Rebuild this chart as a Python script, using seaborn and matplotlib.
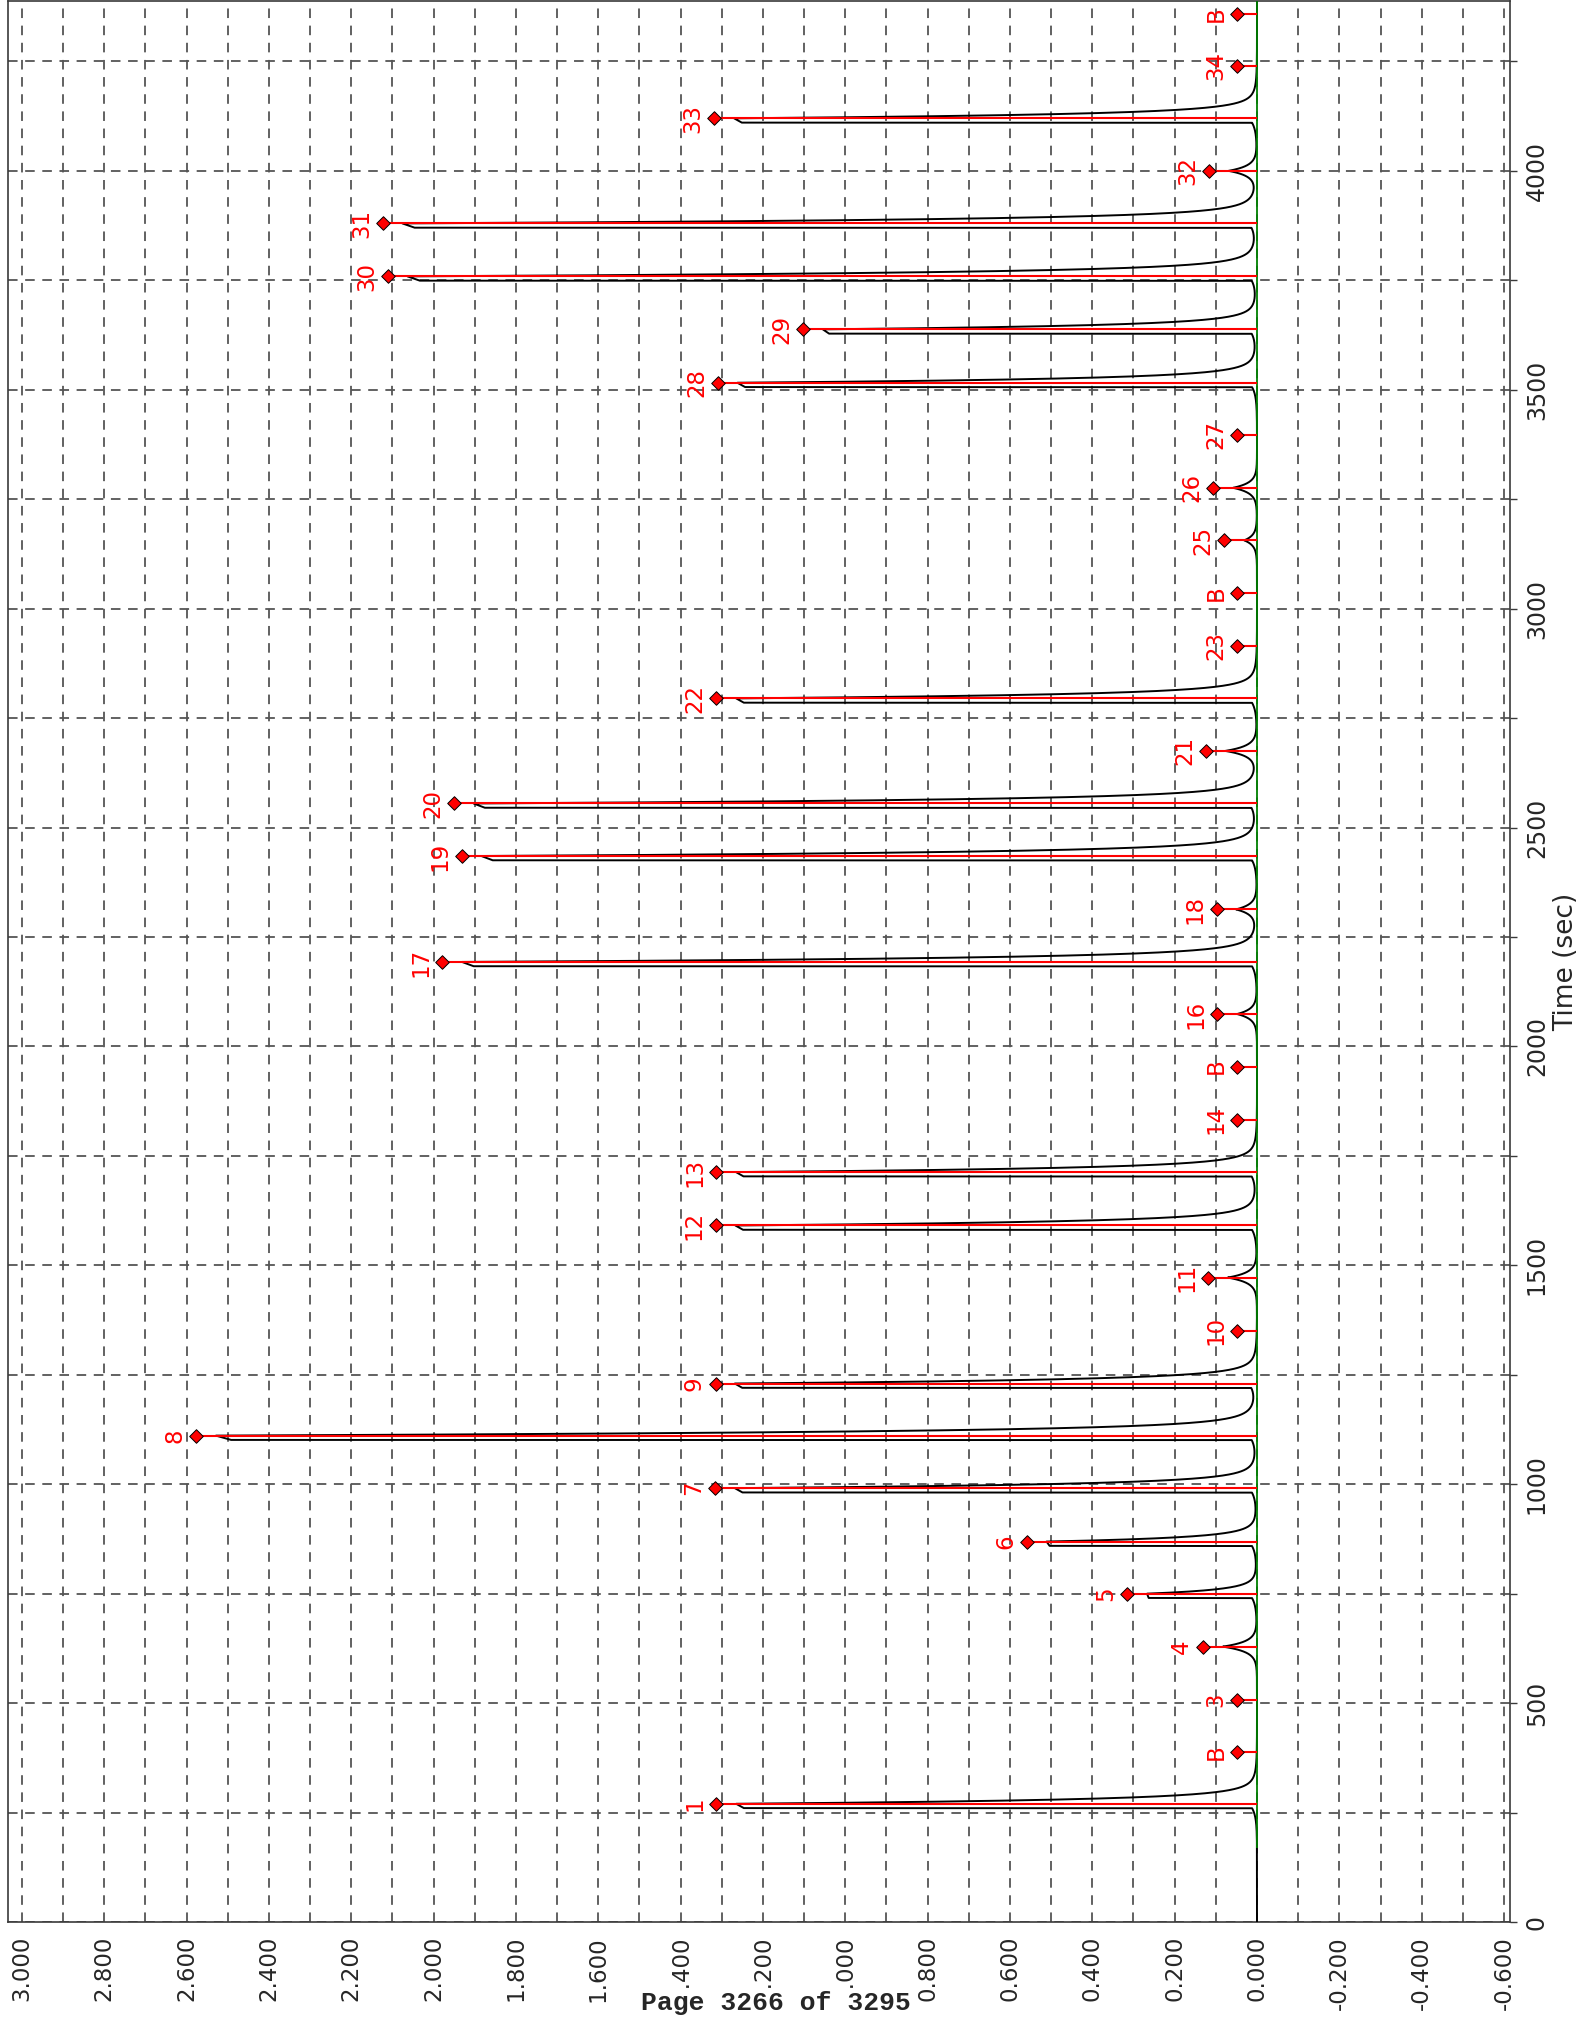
import numpy as np
import pandas as pd
import matplotlib
matplotlib.use("Agg")
import matplotlib.pyplot as plt
import seaborn as sns
from matplotlib.ticker import MultipleLocator, FixedLocator, FormatStrFormatter

# ---- peak table -------------------------------------------------------------
peak_labels = ["1", "B", "3", "4", "5", "6", "7", "8", "9", "10", "11", "12",
               "13", "14", "B", "16", "17", "18", "19", "20", "21", "22", "23",
               "B", "25", "26", "27", "28", "29", "30", "31", "32", "33", "34",
               "B"]
peak_times = [270, 388, 508, 629, 750, 869, 991, 1111, 1230, 1351, 1472, 1591,
              1713, 1833, 1954, 2074, 2193, 2313, 2435, 2555, 2675, 2795, 2915,
              3036, 3156, 3276, 3397, 3516, 3638, 3759, 3880, 4000, 4120, 4240,
              4359]
peak_heights = [1.265, 0.0, 0.0, 0.083, 0.267, 0.511, 1.268, 2.528, 1.267, 0.0,
                0.071, 1.267, 1.265, 0.0, 0.0, 0.048, 1.931, 0.050, 1.884,
                1.902, 0.076, 1.265, 0.0, 0.0, 0.031, 0.058, 0.0, 1.262, 1.054,
                2.063, 2.075, 0.068, 1.270, 0.0, 0.0]

baseline_start = 168.0
run_end = 4390.0

value_ticks = [3.0, 2.8, 2.6, 2.4, 2.2, 2.0, 1.8, 1.6, 1.4, 1.2, 1.0, 0.8,
               0.6, 0.4, 0.2, 0.0, -0.2, -0.4, -0.6]
time_ticks = [0, 500, 1000, 1500, 2000, 2500, 3000, 3500, 4000]

# ---- styling constants -------------------------------------------------------
MARKER_GAP = 0.048          # diamond sits a little beyond the apex
RED = "#ff0000"
GREEN = "#008000"
GRID = "#555555"
FRAME = "#3a3a3a"

# ---- detector trace built from the peak table --------------------------------
t = np.arange(0.0, run_end, 0.2)
signal = np.zeros_like(t)
for t0, h in zip(peak_times, peak_heights):
    if h <= 0:
        continue
    dt = t - t0
    if h >= 0.2:
        lead = 10.0
        start = t0 - lead
        pre = np.where(t < start, 0.012 * np.exp(np.minimum(t - start, 0) / 20.0), 0.0)
        top = np.where((t >= start) & (t <= t0),
                       h * (0.985 + 0.015 * (t - start) / lead), 0.0)
        d = np.clip(dt, 0, None)
        tail = np.where(t > t0, h * (0.94 * np.exp(-d / 9.6) + 0.06 * np.exp(-d / 25.0)), 0.0)
        signal += pre + top + tail
    else:
        signal += h * np.exp(-np.abs(dt) / 12.0)

trace = pd.DataFrame({"time": t, "signal": signal})
peaks = pd.DataFrame({"label": peak_labels, "time": peak_times,
                      "height": peak_heights})
peaks["marker"] = peaks["height"] + MARKER_GAP

# ---- figure ------------------------------------------------------------------
sns.set_style("white")
plt.rcParams["font.family"] = ["DejaVu Sans"]

W, H = 1583, 2028
fig = plt.figure(figsize=(W / 100, H / 100), dpi=100)
ax = fig.add_axes([8 / W, 1 - 1922 / H, (1509.5 - 8) / W, (1922 - 1) / H])

# axes ranges and ticks
ax.set_xlim(3.0337, -0.6133)
ax.set_ylim(0, 4388)
ax.xaxis.set_major_locator(FixedLocator(value_ticks))
ax.xaxis.set_minor_locator(MultipleLocator(0.1))
ax.yaxis.set_major_locator(FixedLocator(time_ticks))
ax.yaxis.set_minor_locator(MultipleLocator(250))
ax.xaxis.set_major_formatter(FormatStrFormatter("%.3f"))

# grid
ax.set_axisbelow(True)
ax.grid(which="both", axis="both", color=GRID, lw=1.3, linestyle=(0, (5.3, 4.2)))

# trace
sns.lineplot(data=trace, x="signal", y="time", orient="y", sort=False,
             estimator=None, color="black", lw=1.4, ax=ax, zorder=3)

# integration baseline
ax.vlines(0.0, baseline_start, run_end, color=GREEN, lw=1.3, zorder=4)

# peak markers
ax.hlines(peaks["time"], 0.0, peaks["marker"], color=RED, lw=1.5, zorder=5)
sns.scatterplot(data=peaks, x="marker", y="time", marker="D", color=RED,
                edgecolor="black", linewidth=0.7, s=48, ax=ax, zorder=6)
for _, row in peaks.iterrows():
    ax.annotate(row["label"], (row["marker"], row["time"]),
                xytext=(-7, 0), textcoords="offset points",
                rotation=90, ha="right", va="center", color=RED,
                fontsize=16.5, zorder=7)

ax.set_xlim(3.0337, -0.6133)
ax.set_ylim(0, 4388)

ax.yaxis.tick_right()
ax.yaxis.set_label_position("right")
ax.tick_params(axis="x", which="major", length=7.5, width=1.0, color=FRAME,
               pad=2.5, labelsize=16.5, labelrotation=90)
ax.tick_params(axis="x", which="minor", length=4, width=1.0, color=FRAME)
ax.tick_params(axis="y", which="both", length=5, width=1.0, color=FRAME,
               pad=6, labelsize=17, labelrotation=90)
for tick in ax.yaxis.get_major_ticks():
    tick.label2.set_verticalalignment("center")
    tick.label2.set_horizontalalignment("left")
ax.set_xlabel("")
ax.set_ylabel("Time (sec)", fontsize=19, rotation=90)
ax.yaxis.set_label_coords(1.029, 0.5)
for sp in ax.spines.values():
    sp.set_color(FRAME)
    sp.set_linewidth(1.2)

fig.text(776 / W, 1 - 2003 / H, "Page 3266 of 3295", ha="center", va="center",
         family="Liberation Mono", weight="bold", fontsize=19, zorder=10,
         bbox=dict(facecolor="white", edgecolor="none", pad=1.0))

fig.savefig("out.png", dpi=100, facecolor="white")
